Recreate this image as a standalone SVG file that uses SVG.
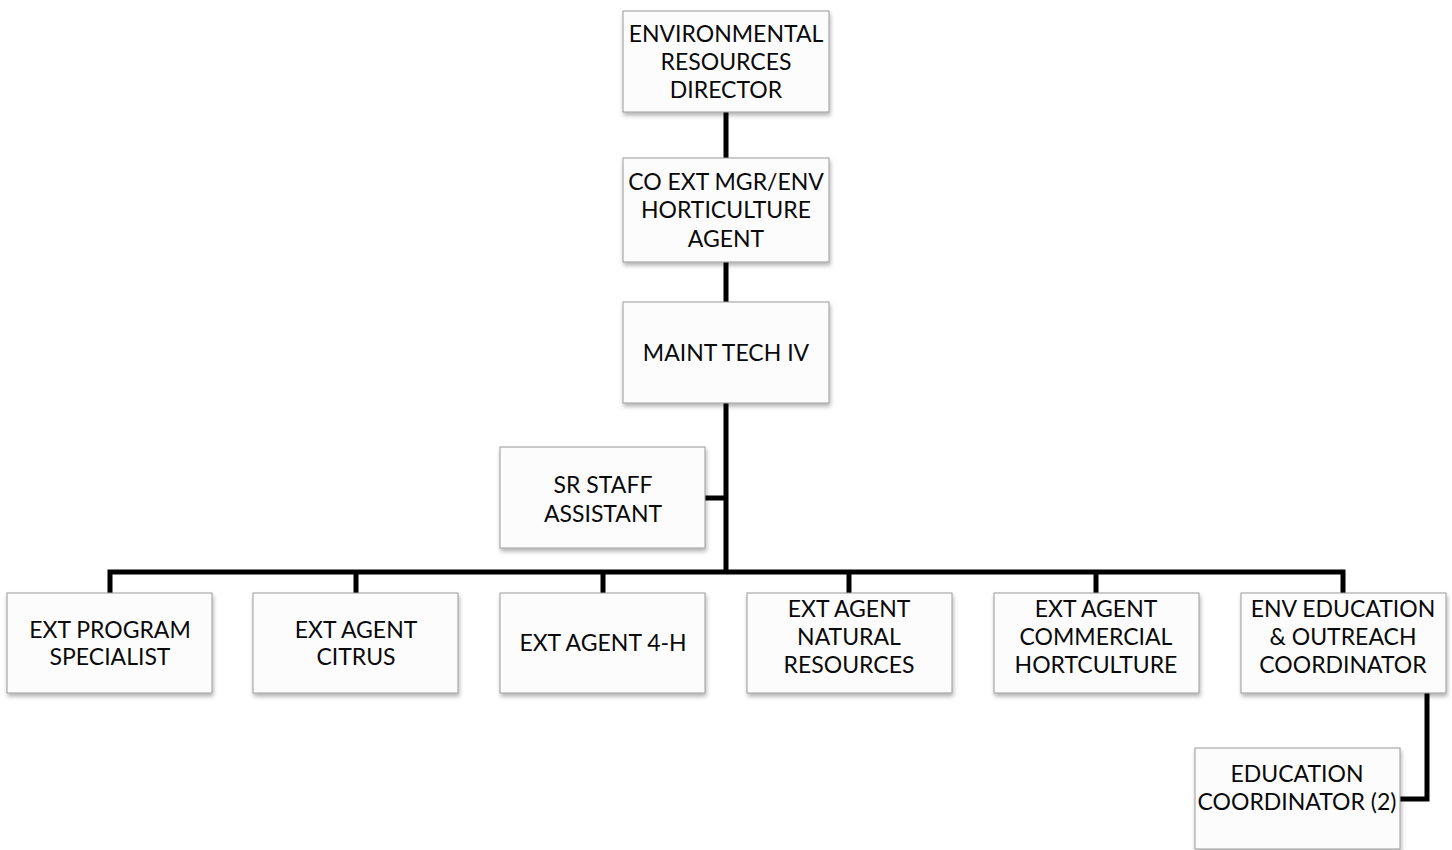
<svg xmlns="http://www.w3.org/2000/svg" width="1452" height="850" viewBox="0 0 1452 850">
  <style>
    .box { fill: #fcfcfc; stroke: #9a9a9a; stroke-width: 1; filter: url(#shadow); }
    .lbl { font-family: Lato, "Liberation Sans", sans-serif; font-size: 23px; fill: #0a0a0a; text-anchor: middle; }
    .wire { fill: none; stroke: #000; stroke-width: 5; stroke-linejoin: miter; stroke-linecap: butt; }
  </style>
  <defs>
    <filter id="shadow" x="-5%" y="-5%" width="115%" height="120%">
      <feDropShadow dx="1" dy="3" stdDeviation="2" flood-color="#000" flood-opacity="0.3"/>
    </filter>
  </defs>
  <rect width="1452" height="850" fill="#fff"/>

  <g id="connectors">
    <line class="wire" x1="726" y1="112" x2="726" y2="158"/>
    <line class="wire" x1="726" y1="262" x2="726" y2="302"/>
    <line class="wire" x1="726" y1="403" x2="726" y2="574"/>
    <line class="wire" x1="705" y1="498" x2="726" y2="498"/>
    <polyline class="wire" points="110,593 110,572 1343,572 1343,593"/>
    <line class="wire" x1="356" y1="572" x2="356" y2="593"/>
    <line class="wire" x1="603" y1="572" x2="603" y2="593"/>
    <line class="wire" x1="849" y1="572" x2="849" y2="593"/>
    <line class="wire" x1="1096" y1="572" x2="1096" y2="593"/>
    <polyline class="wire" points="1427,693 1427,799 1400,799"/>
  </g>

  <g id="director">
    <rect class="box" x="623" y="11" width="206" height="101"/>
    <text class="lbl" x="726" y="42">ENVIRONMENTAL</text>
    <text class="lbl" x="726" y="70">RESOURCES</text>
    <text class="lbl" x="726" y="98">DIRECTOR</text>
  </g>

  <g id="co-ext-mgr">
    <rect class="box" x="623" y="158" width="206" height="104"/>
    <text class="lbl" x="726" y="190">CO EXT MGR/ENV</text>
    <text class="lbl" x="726" y="218">HORTICULTURE</text>
    <text class="lbl" x="726" y="247">AGENT</text>
  </g>

  <g id="maint-tech">
    <rect class="box" x="623" y="302" width="206" height="101"/>
    <text class="lbl" x="726" y="361">MAINT TECH IV</text>
  </g>

  <g id="sr-staff">
    <rect class="box" x="500" y="447" width="205" height="101"/>
    <text class="lbl" x="603" y="493">SR STAFF</text>
    <text class="lbl" x="603" y="522">ASSISTANT</text>
  </g>

  <g id="ext-program">
    <rect class="box" x="7" y="593" width="205" height="100"/>
    <text class="lbl" x="110" y="638">EXT PROGRAM</text>
    <text class="lbl" x="110" y="665">SPECIALIST</text>
  </g>

  <g id="ext-citrus">
    <rect class="box" x="253" y="593" width="205" height="100"/>
    <text class="lbl" x="356" y="638">EXT AGENT</text>
    <text class="lbl" x="356" y="665">CITRUS</text>
  </g>

  <g id="ext-4h">
    <rect class="box" x="500" y="593" width="205" height="100"/>
    <text class="lbl" x="603" y="651">EXT AGENT 4-H</text>
  </g>

  <g id="ext-natural">
    <rect class="box" x="747" y="593" width="205" height="100"/>
    <text class="lbl" x="849" y="617">EXT AGENT</text>
    <text class="lbl" x="849" y="645">NATURAL</text>
    <text class="lbl" x="849" y="673">RESOURCES</text>
  </g>

  <g id="ext-commercial">
    <rect class="box" x="994" y="593" width="205" height="100"/>
    <text class="lbl" x="1096" y="617">EXT AGENT</text>
    <text class="lbl" x="1096" y="645">COMMERCIAL</text>
    <text class="lbl" x="1096" y="673">HORTCULTURE</text>
  </g>

  <g id="env-education">
    <rect class="box" x="1241" y="593" width="205" height="100"/>
    <text class="lbl" x="1343" y="617">ENV EDUCATION</text>
    <text class="lbl" x="1343" y="645">&amp; OUTREACH</text>
    <text class="lbl" x="1343" y="673">COORDINATOR</text>
  </g>

  <g id="education-coordinator">
    <rect class="box" x="1195" y="748" width="205" height="101"/>
    <text class="lbl" x="1297" y="782">EDUCATION</text>
    <text class="lbl" x="1297" y="810">COORDINATOR (2)</text>
  </g>
</svg>
